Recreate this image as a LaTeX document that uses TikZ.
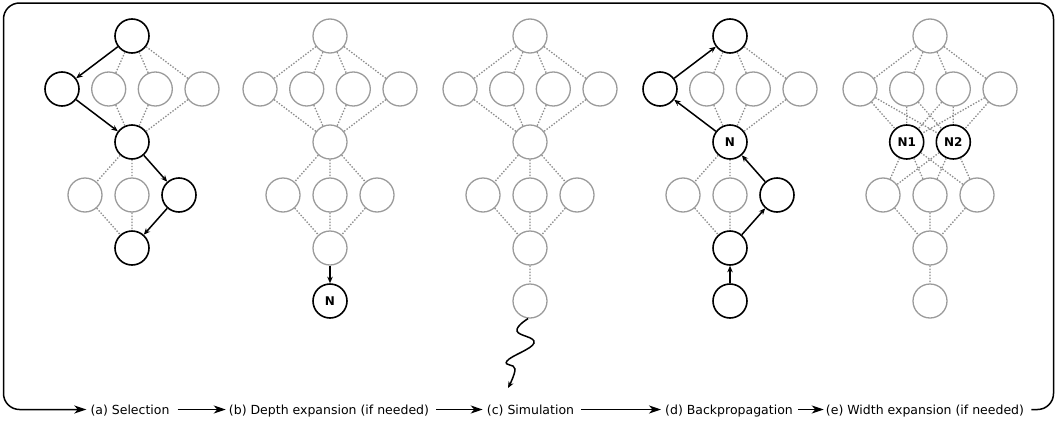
\documentclass[tikz,border=0pt]{standalone}
\usepackage{fontspec}
\setmainfont{DejaVu Sans}
\usetikzlibrary{arrows.meta}
\definecolor{gr}{RGB}{155,155,155}
\definecolor{dgr}{RGB}{140,140,140}
\tikzset{
 gnode/.style={circle,draw=gr,line width=1.3pt,minimum size=34pt,inner sep=0pt},
 bnode/.style={circle,draw=black,line width=1.6pt,minimum size=34pt,inner sep=0pt,font=\bfseries\fontsize{12}{14}\selectfont},
 dline/.style={draw=dgr,line width=1.3pt,dash pattern=on 1.4pt off 1.6pt},
 parr/.style={draw=black,line width=1.5pt,-{Stealth[length=6.5pt,width=5.5pt]}},
 flowarr/.style={draw=black,line width=1.5pt,-{Stealth[length=12pt,width=8pt,inset=3.5pt]}},
 lbl/.style={font=\fontsize{12.5}{14}\selectfont,inner sep=0pt,text height=9pt,text depth=0pt}
}
\begin{document}
\begin{tikzpicture}[x=1pt,y=-1pt]
\useasboundingbox (0,0) rectangle (1056,423);

% ---------- panel (a) ----------
\node[bnode] (a0) at (132,36) {};
\node[bnode] (a1) at (62,89) {};
\node[gnode] (a2) at (108.7,89) {};
\node[gnode] (a3) at (155.3,89) {};
\node[gnode] (a4) at (202,89) {};
\node[bnode] (a5) at (132,142) {};
\node[gnode] (a6) at (85,195) {};
\node[gnode] (a7) at (132,195) {};
\node[bnode] (a8) at (179,195) {};
\node[bnode] (a9) at (132,248) {};
\draw[dline] (a0)--(a2) (a0)--(a3) (a0)--(a4) (a2)--(a5) (a3)--(a5) (a4)--(a5)
  (a5)--(a6) (a5)--(a7) (a6)--(a9) (a7)--(a9);
\draw[parr] (a0)--(a1);
\draw[parr] (a1)--(a5);
\draw[parr] (a5)--(a8);
\draw[parr] (a8)--(a9);

% ---------- panel (b) ----------
\node[gnode] (b0) at (330,36) {};
\node[gnode] (b1) at (260,89) {};
\node[gnode] (b2) at (306.7,89) {};
\node[gnode] (b3) at (353.3,89) {};
\node[gnode] (b4) at (400,89) {};
\node[gnode] (b5) at (330,142) {};
\node[gnode] (b6) at (283,195) {};
\node[gnode] (b7) at (330,195) {};
\node[gnode] (b8) at (377,195) {};
\node[gnode] (b9) at (330,248) {};
\node[bnode] (b10) at (330,301) {N};
\draw[dline] (b0)--(b1) (b0)--(b2) (b0)--(b3) (b0)--(b4)
  (b1)--(b5) (b2)--(b5) (b3)--(b5) (b4)--(b5)
  (b5)--(b6) (b5)--(b7) (b5)--(b8) (b6)--(b9) (b7)--(b9) (b8)--(b9);
\draw[parr] (b9)--(b10);

% ---------- panel (c) ----------
\node[gnode] (c0) at (530,36) {};
\node[gnode] (c1) at (460,89) {};
\node[gnode] (c2) at (506.7,89) {};
\node[gnode] (c3) at (553.3,89) {};
\node[gnode] (c4) at (600,89) {};
\node[gnode] (c5) at (530,142) {};
\node[gnode] (c6) at (483,195) {};
\node[gnode] (c7) at (530,195) {};
\node[gnode] (c8) at (577,195) {};
\node[gnode] (c9) at (530,248) {};
\node[gnode] (c10) at (530,301) {};
\draw[dline] (c0)--(c1) (c0)--(c2) (c0)--(c3) (c0)--(c4)
  (c1)--(c5) (c2)--(c5) (c3)--(c5) (c4)--(c5)
  (c5)--(c6) (c5)--(c7) (c5)--(c8) (c6)--(c9) (c7)--(c9) (c8)--(c9) (c9)--(c10);
\coordinate (ctip) at (508,388);
\draw[parr,line width=1.5pt] plot[smooth,tension=0.75] coordinates
  {([xshift=-2pt]c10.south) (517,331) (534,343) (507,361) (515,369) (ctip)};

% ---------- panel (d) ----------
\node[bnode] (d0) at (730,36) {};
\node[bnode] (d1) at (660,89) {};
\node[gnode] (d2) at (706.7,89) {};
\node[gnode] (d3) at (753.3,89) {};
\node[gnode] (d4) at (800,89) {};
\node[bnode] (d5) at (730,142) {N};
\node[gnode] (d6) at (683,195) {};
\node[gnode] (d7) at (730,195) {};
\node[bnode] (d8) at (777,195) {};
\node[bnode] (d9) at (730,248) {};
\node[bnode] (d10) at (730,301) {};
\draw[dline] (d0)--(d2) (d0)--(d3) (d0)--(d4) (d2)--(d5) (d3)--(d5) (d4)--(d5)
  (d5)--(d6) (d5)--(d7) (d6)--(d9) (d7)--(d9);
\draw[parr] (d10)--(d9);
\draw[parr] (d9)--(d8);
\draw[parr] (d8)--(d5);
\draw[parr] (d5)--(d1);
\draw[parr] (d1)--(d0);

% ---------- panel (e) ----------
\node[gnode] (e0) at (930,36) {};
\node[gnode] (e1) at (860,89) {};
\node[gnode] (e2) at (906.7,89) {};
\node[gnode] (e3) at (953.3,89) {};
\node[gnode] (e4) at (1000,89) {};
\node[bnode] (n1) at (906.7,142) {N1};
\node[bnode] (n2) at (953.3,142) {N2};
\node[gnode] (e6) at (883,195) {};
\node[gnode] (e7) at (930,195) {};
\node[gnode] (e8) at (977,195) {};
\node[gnode] (e9) at (930,248) {};
\node[gnode] (e10) at (930,301) {};
\draw[dline] (e0)--(e1) (e0)--(e2) (e0)--(e3) (e0)--(e4)
  (e1)--(n1) (e2)--(n1) (e3)--(n1) (e4)--(n1)
  (e1)--(n2) (e2)--(n2) (e3)--(n2) (e4)--(n2)
  (n1)--(e6) (n1)--(e7) (n1)--(e8) (n2)--(e6) (n2)--(e7) (n2)--(e8)
  (e6)--(e9) (e7)--(e9) (e8)--(e9) (e9)--(e10);

% ---------- bottom flow ----------
\node[lbl] (la) at (130,409.5) {(a) Selection};
\node[lbl] (lb) at (329,409.5) {(b) Depth expansion (if needed)};
\node[lbl] (lc) at (530.5,409.5) {(c) Simulation};
\node[lbl] (ld) at (729,409.5) {(d) Backpropagation};
\node[lbl] (le) at (925,409.5) {(e) Width expansion (if needed)};
\draw[flowarr] ([xshift=8pt]la.east) -- ([xshift=-3pt]lb.west);
\draw[flowarr] ([xshift=7pt]lb.east) -- ([xshift=-4pt]lc.west);
\draw[flowarr] ([xshift=7pt]lc.east) -- ([xshift=-4pt]ld.west);
\draw[flowarr] ([xshift=5pt]ld.east) -- ([xshift=-2pt]le.west);
\draw[flowarr,rounded corners=16pt] ([xshift=7pt]le.east) -- (1053.5,409.5)
  -- (1053.5,3) -- (3.5,3) -- (3.5,409.5) -- ([xshift=-4pt]la.west);
\end{tikzpicture}
\end{document}
